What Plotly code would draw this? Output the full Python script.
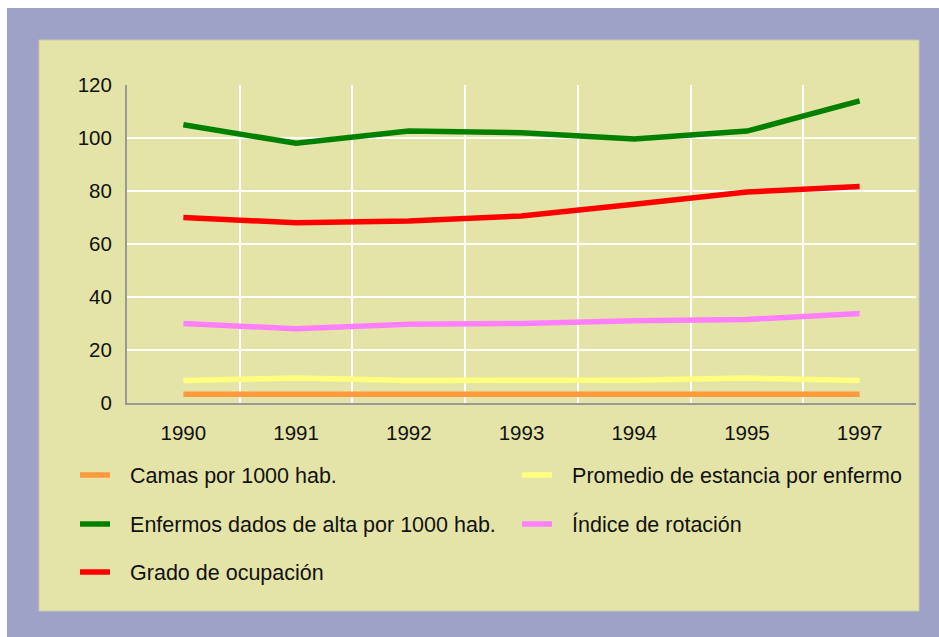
import plotly.graph_objects as go

# Hospital indicators by year (1996 not reported)
years = ["1990", "1991", "1992", "1993", "1994", "1995", "1997"]

camas = [3.3, 3.3, 3.3, 3.3, 3.3, 3.3, 3.3]
enfermos_alta = [105, 98, 102.6, 102, 99.6, 102.6, 114]
grado_ocupacion = [70, 68, 68.7, 70.6, 75, 79.6, 81.7]
promedio_estancia = [8.5, 9.4, 8.5, 8.5, 8.6, 9.4, 8.5]
indice_rotacion = [30, 28, 29.7, 30, 31, 31.5, 33.8]

series = [
    ("Camas por 1000 hab.", camas, "#ff9a3c"),
    ("Promedio de estancia por enfermo", promedio_estancia, "#ffff80"),
    ("Enfermos dados de alta por 1000 hab.", enfermos_alta, "#008000"),
    ("Índice de rotación", indice_rotacion, "#ff80ff"),
    ("Grado de ocupación", grado_ocupacion, "#ff0000"),
]

FONT = "Arial, Liberation Sans, sans-serif"
KHAKI = "#e5e4a8"
FRAME = "#9da2c6"
GAP = "\u2002\u2009"  # space between legend swatch and label

# plot area in pixels
W, H = 939, 637
L, R, T, B = 127, 916, 85, 403
pw, ph = R - L, B - T


def px_x(v):
    return (v - L) / pw


def px_y(v):
    return (B - v) / ph


legend_names = ["legend", "legend2", "legend3", "legend4", "legend5"]
# legend entry positions (column, row)
legend_pos = [(0, 0), (1, 0), (0, 1), (1, 1), (0, 2)]
col_x = [75, 517]
row_y = [475, 524, 572]

fig = go.Figure()
for (name, vals, color), lg in zip(series, legend_names):
    fig.add_trace(go.Scatter(
        x=years, y=vals, name=GAP + name, mode="lines",
        line=dict(color=color, width=5.5),
        legend=lg,
    ))

layout_legends = {}
for lg, (c, r) in zip(legend_names, legend_pos):
    layout_legends[lg] = dict(
        x=px_x(col_x[c]), y=px_y(row_y[r]),
        xanchor="left", yanchor="middle",
        xref="paper", yref="paper",
        bgcolor="rgba(0,0,0,0)", borderwidth=0,
        font=dict(family=FONT, size=21.5, color="#111111"),
        itemwidth=30,
    )

fig.update_layout(
    width=W, height=H,
    margin=dict(l=L, r=W - R, t=T, b=H - B),
    paper_bgcolor="white",
    plot_bgcolor=KHAKI,
    showlegend=True,
    **layout_legends,
    shapes=[
        dict(type="rect", xref="paper", yref="paper", layer="below",
             x0=px_x(7), x1=px_x(W + 5), y0=px_y(H + 5), y1=px_y(8),
             fillcolor=FRAME, line=dict(width=0)),
        dict(type="rect", xref="paper", yref="paper", layer="below",
             x0=px_x(39), x1=px_x(919), y0=px_y(611), y1=px_y(40),
             fillcolor=KHAKI, line=dict(color="#c8c8b0", width=1)),
    ],
)

fig.update_xaxes(
    type="category", range=[-0.5, 6.5],
    tickson="boundaries", ticks="",
    showgrid=True, gridcolor="white", gridwidth=2,
    showline=True, linecolor="#999999", linewidth=2,
    tickfont=dict(family=FONT, size=20.5, color="#111111"),
    ticklabelstandoff=10,
    fixedrange=True,
)
fig.update_yaxes(
    range=[0, 120], tickvals=[0, 20, 40, 60, 80, 100, 120],
    ticks="", showgrid=True, gridcolor="white", gridwidth=2,
    zeroline=False,
    showline=True, linecolor="#999999", linewidth=2,
    tickfont=dict(family=FONT, size=20.5, color="#111111"),
    ticklabelstandoff=9,
    fixedrange=True,
)

fig.write_html("out.html")
